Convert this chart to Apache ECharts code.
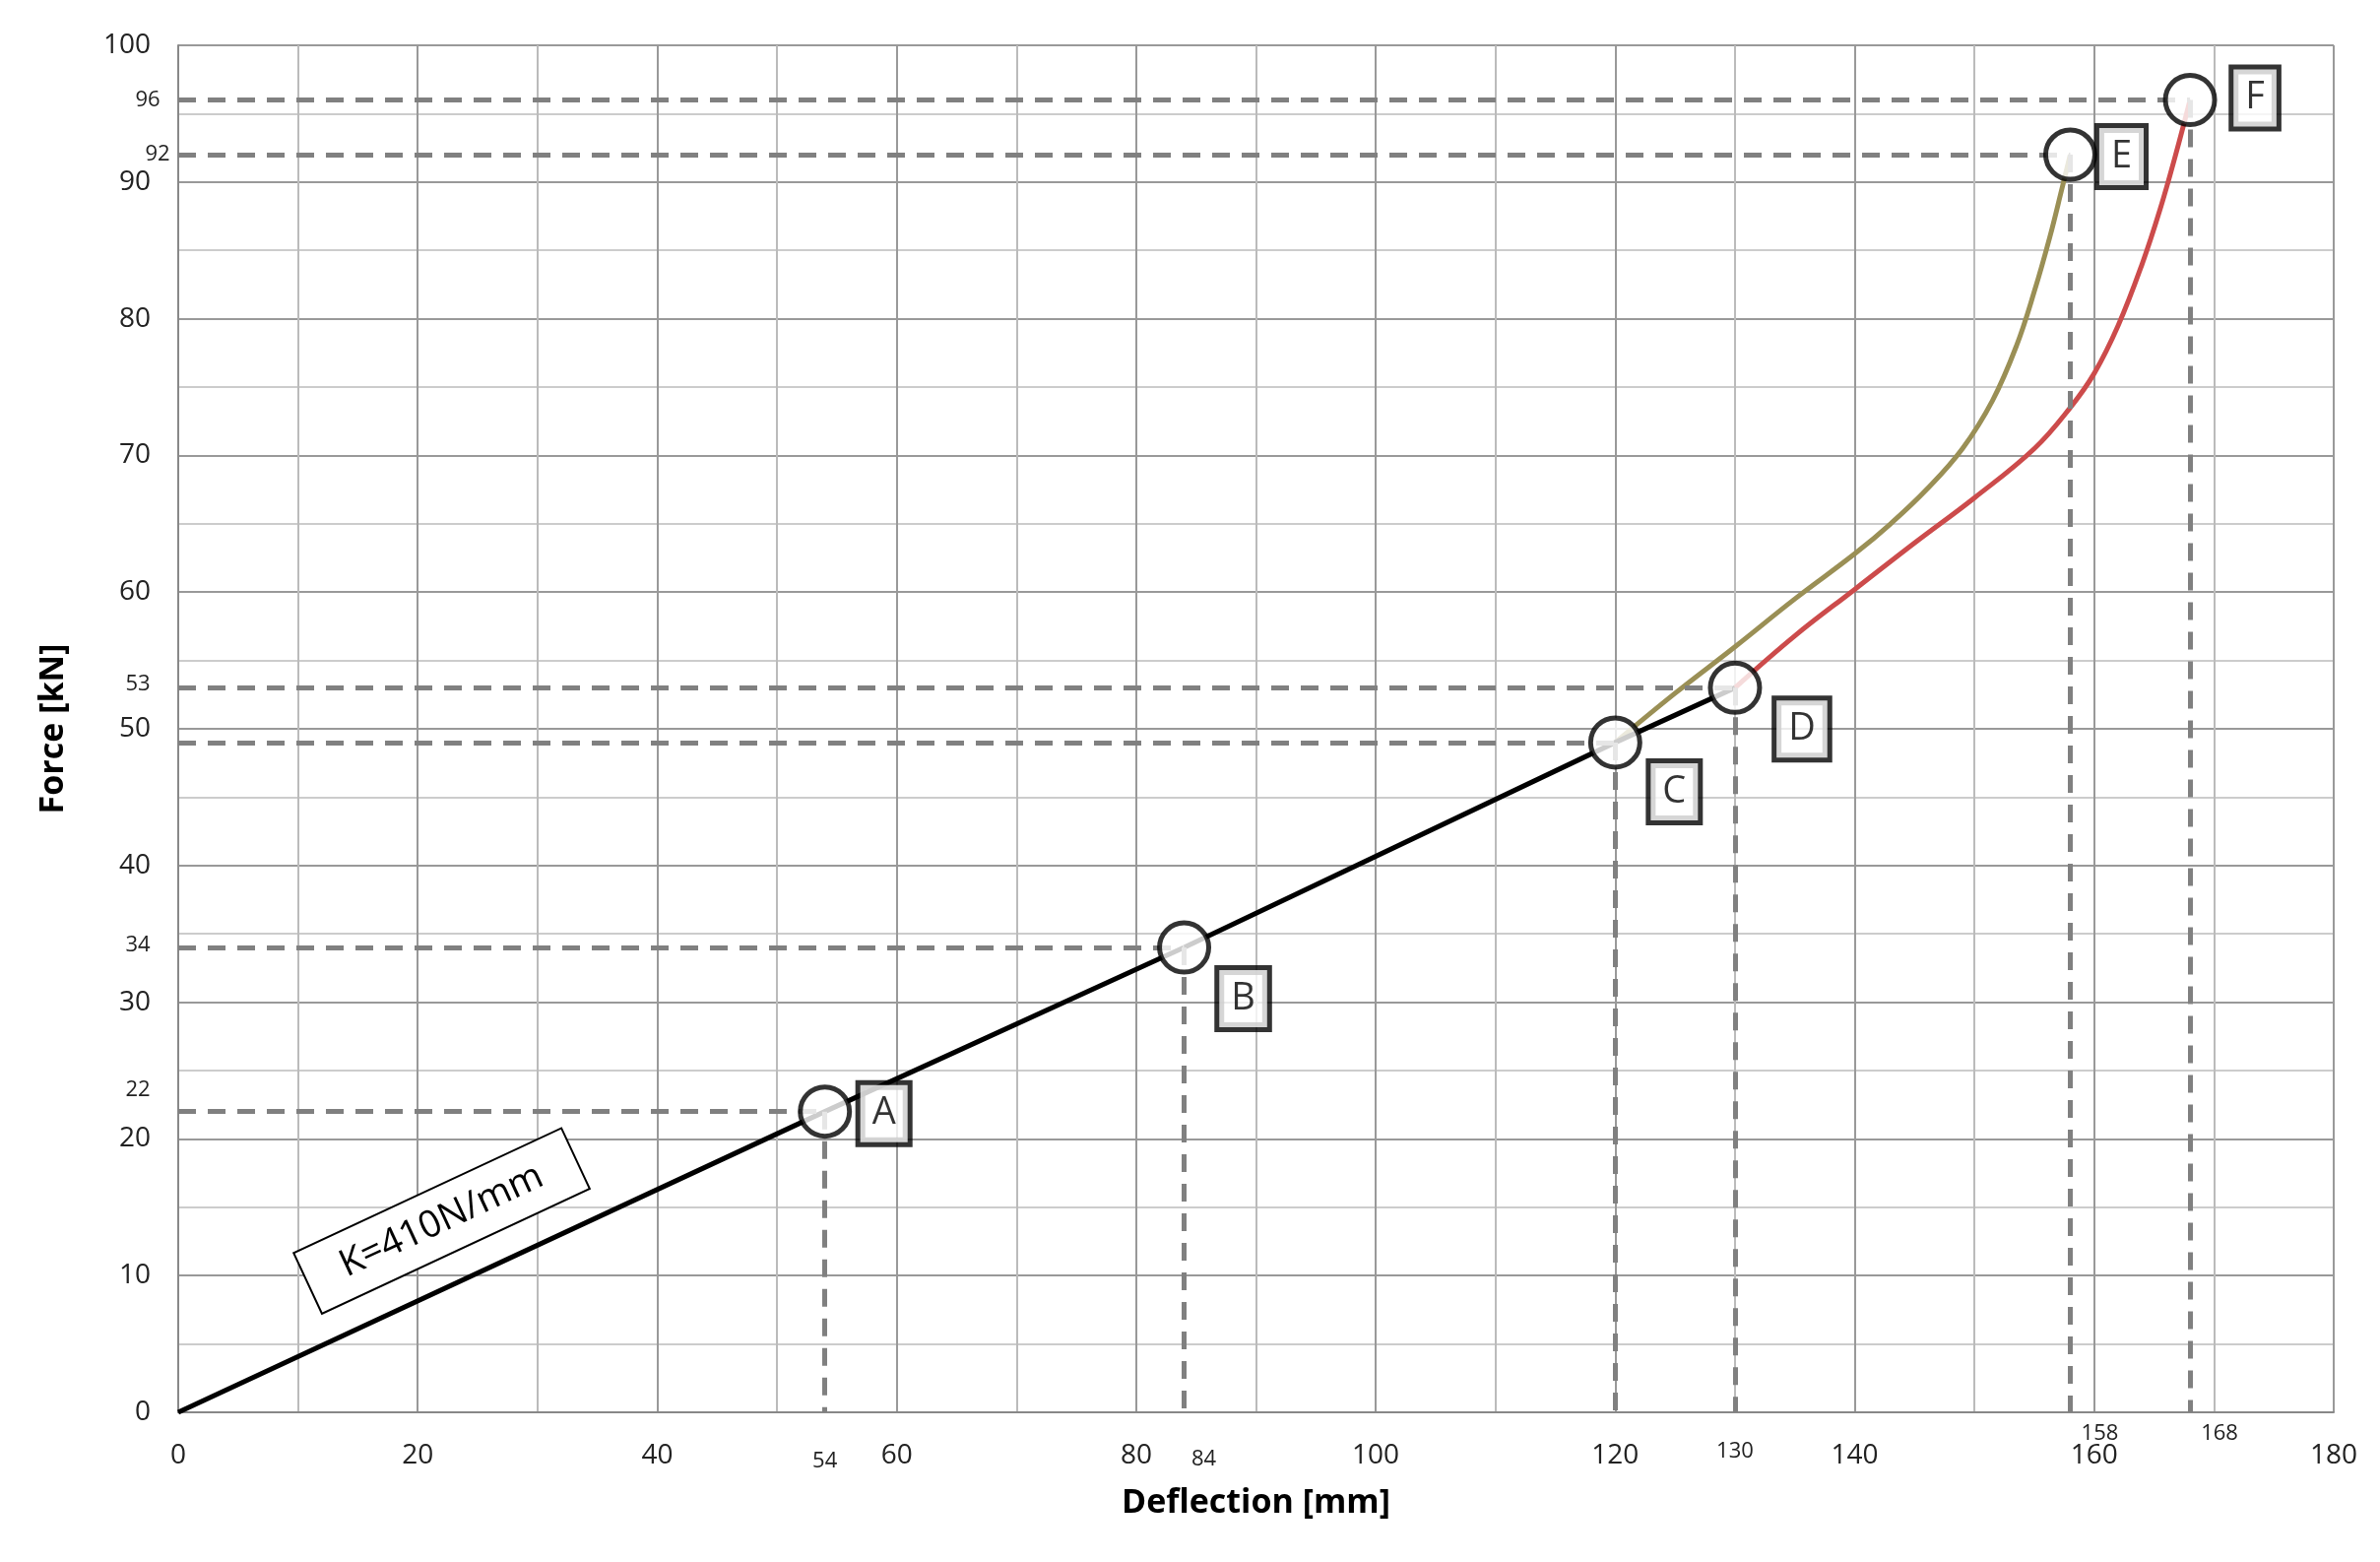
<!DOCTYPE html>
<html><head><meta charset="utf-8">
<script src="https://cdn.jsdelivr.net/npm/echarts@6/dist/echarts.min.js"></script>
<style>html,body{margin:0;background:#fff}#main{width:2417px;height:1586px}</style>
</head><body><div id="main"></div>
<script>
// 主线（线性段）
const linearLine = [[0, 0], [54, 22], [84, 34], [120, 49], [130, 53]];
// 橄榄色曲线 C -> E
const oliveCurve = [[120, 49], [125, 52.6], [130, 56], [135, 59.5], [140, 62.8], [143, 65], [146, 67.5], [149, 70.5], [151.5, 74], [153.5, 78], [155, 82], [156.3, 86], [157.3, 89.5], [158, 92]];
// 红色曲线 D -> F
const redCurve = [[130, 53], [135, 56.8], [140, 60.2], [145, 63.6], [150, 66.9], [155, 70.5], [158, 73.5], [160, 76], [162, 79.5], [164, 84], [165.5, 88], [166.8, 92], [168, 96]];
// 关键点
const pointNames = ["A", "B", "C", "D", "E", "F"];
const pointData = [[54, 22], [84, 34], [120, 49], [130, 53], [158, 92], [168, 96]];
const labelOffsets = [[60, 2], [60, 52], [60, 50], [68, 42], [52, 2], [66, -2]];
const xExtraTicks = ["54", "84", "130", "158", "168"];
const yExtraTicks = ["22", "34", "53", "92", "96"];

const font = "'Open Sans', 'Liberation Sans', sans-serif";
const myChart = echarts.init(document.querySelector("#main"));

const dashLines = [];
pointData.forEach(([x, y]) => {
	dashLines.push([{ coord: [0, y] }, { coord: [x, y] }]);
	dashLines.push([{ coord: [x, y] }, { coord: [x, 0] }]);
});

myChart.setOption({
	animation: false,
	grid: { left: 181, right: 47, top: 46, bottom: 152 },
	xAxis: {
		type: "value", min: 0, max: 180, interval: 20,
		name: "Deflection [mm]", nameLocation: "middle", nameGap: 75,
		nameTextStyle: { fontSize: 34, fontWeight: "bold", color: "#000", fontFamily: font },
		axisLine: { lineStyle: { color: "#888", width: 2 } },
		axisTick: { show: false },
		axisLabel: { fontSize: 28, color: "#222", margin: 30, fontFamily: font },
		splitLine: { lineStyle: { color: "#999", width: 2 } },
		minorTick: { show: false, splitNumber: 2 },
		minorSplitLine: { show: true, lineStyle: { color: "#bbb", width: 2 } },
	},
	yAxis: {
		type: "value", min: 0, max: 100, interval: 10,
		name: "Force [kN]", nameLocation: "middle", nameGap: 110,
		nameTextStyle: { fontSize: 34, fontWeight: "bold", color: "#000", fontFamily: font },
		axisLine: { show: true, lineStyle: { color: "#888", width: 2 } },
		axisTick: { show: false },
		axisLabel: { fontSize: 28, color: "#222", margin: 28, fontFamily: font },
		splitLine: { lineStyle: { color: "#999", width: 2 } },
		minorTick: { show: false, splitNumber: 2 },
		minorSplitLine: { show: true, lineStyle: { color: "#ccc", width: 2 } },
	},
	series: [
		{
			type: "line", data: oliveCurve, smooth: 0.4, symbol: "none",
			lineStyle: { color: "#9a8f55", width: 5 }, z: 3,
		},
		{
			type: "line", data: redCurve, smooth: 0.4, symbol: "none",
			lineStyle: { color: "#cc4b4b", width: 5 }, z: 3,
		},
		{
			type: "line", data: linearLine, symbol: "none",
			lineStyle: { color: "#000", width: 5 }, z: 4,
			markLine: {
				silent: true, symbol: "none", label: { show: false },
				lineStyle: { color: "#808080", type: [18, 12], width: 5 },
				data: dashLines,
			},
		},
		{
			type: "scatter", data: pointData, symbol: "circle", symbolSize: 50,
			itemStyle: { color: "#fff", borderColor: "#000", borderWidth: 5 }, z: 5,
			label: {
				show: true,
				formatter: (p) => pointNames[p.dataIndex],
				position: "inside",
				color: "#000", fontSize: 38, fontFamily: font,
				backgroundColor: "#fff", borderColor: "#000", borderWidth: 5,
				padding: [12, 12, 8, 12],
			},
			labelLayout: (p) => ({
				dx: labelOffsets[p.dataIndex][0],
				dy: labelOffsets[p.dataIndex][1],
			}),
		},
	],
});

// 额外刻度标签
const px = (x, y) => myChart.convertToPixel({ gridIndex: 0 }, [x, y]);
const gfx = [];
const xOff = [[0, 50], [20, 48], [0, 40], [30, 22], [30, 22]];
pointData.forEach(([x, y], i) => {
	if (i === 2) return;
	const k = i > 2 ? i - 1 : i;
	const p = px(x, 0);
	gfx.push({
		type: "text", x: p[0] + xOff[k][0], y: p[1] + xOff[k][1],
		style: { text: xExtraTicks[k], fill: "#222", font: "22px " + font, textAlign: "center", textVerticalAlign: "middle" },
	});
});
const yPts = [[22, 140, -22], [34, 140, -2], [53, 140, -4], [92, 160, 0], [96, 150, 0]];
yPts.forEach(([y, xx, dy], i) => {
	const p = px(0, y);
	gfx.push({
		type: "text", x: xx, y: p[1] + dy,
		style: { text: yExtraTicks[i], font: "22px " + font, fill: "#222", textAlign: "center", textVerticalAlign: "middle" },
	});
});
// K=410N/mm 标注
const kp = px(22, 14);
gfx.push({
	type: "group", x: kp[0], y: kp[1], rotation: 25 * Math.PI / 180,
	children: [
		{ type: "rect", shape: { x: -150, y: -34, width: 300, height: 68 }, style: { fill: "#fff", stroke: "#000", lineWidth: 2 } },
		{ type: "text", style: { text: "K=410N/mm", font: "38px " + font, fill: "#000", textAlign: "center", textVerticalAlign: "middle" } },
	],
});
myChart.setOption({ graphic: gfx });
</script>
</body></html>
